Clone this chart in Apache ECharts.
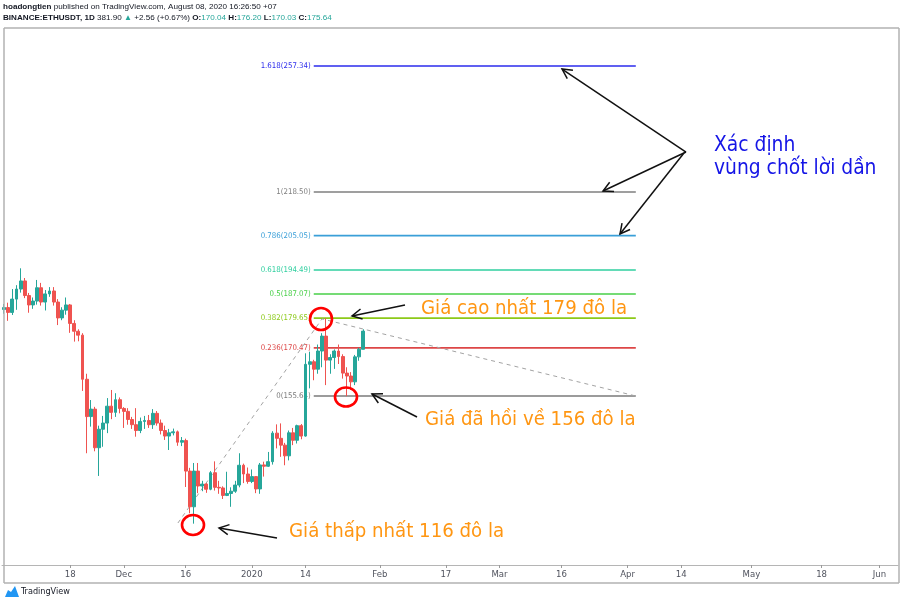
<!DOCTYPE html>
<html><head><meta charset="utf-8">
<script src="https://cdn.jsdelivr.net/npm/echarts/dist/echarts.min.js"></script>
<style>html,body{margin:0;padding:0;background:#fff}#c{width:900px;height:600px}</style>
</head><body><div id="c"></div>
<script>
// ---------- data ----------
const startDate = Date.UTC(2019, 10, 2);   // first category: 2019-11-02
const dayCount = 217;                      // through 2020-06-05
const days = [];
for (let i = 0; i < dayCount; i++) days.push(new Date(startDate + i * 86400000).toISOString().slice(0, 10));

// daily candles 2019-11-02 .. 2020-01-28
const opens  = [182.3,182.9,181.4,185.5,188.6,191.1,186.6,183.7,184.9,189.0,184.6,187.1,188.0,184.6,179.7,182.1,183.7,178.0,175.6,174.4,160.8,149.3,151.6,139.7,145.4,147.3,152.5,150.6,154.5,151.8,150.9,148.4,146.8,145.0,147.8,148.1,146.8,150.3,147.3,145.0,143.3,144.3,144.6,141.4,141.9,132.5,121.5,132.5,127.9,128.5,126.9,132.0,127.5,127.3,125.0,125.6,126.3,128.2,134.3,131.6,129.3,130.8,127.0,134.4,134.0,135.4,144.2,142.6,140.5,137.2,144.3,142.0,146.5,143.3,165.4,166.2,163.9,169.5,174.1,166.7,167.5,169.5,167.8,162.7,161.8,160.0,167.7,170.04];
const closes = [182.9,181.4,185.5,188.6,191.1,186.6,183.7,184.9,189.0,184.6,187.1,188.0,184.6,179.7,182.1,183.7,178.0,175.6,174.4,160.8,149.3,151.6,139.7,145.4,147.3,152.5,150.6,154.5,151.8,150.9,148.4,146.8,145.0,147.8,148.1,146.8,150.3,147.3,145.0,143.3,144.3,144.6,141.4,141.9,132.5,121.5,132.5,127.9,128.5,126.9,132.0,127.5,127.3,125.0,125.6,126.3,128.2,134.3,131.6,129.3,130.8,127.0,134.4,134.0,135.4,144.2,142.6,140.5,137.2,144.3,142.0,146.5,143.3,165.4,166.2,163.9,169.5,174.1,166.7,167.5,169.5,167.8,162.7,161.8,160.0,167.7,170.04,175.64];
const lows   = [181.0,178.8,180.6,182.2,187.5,185.8,181.3,182.5,183.8,183.5,182.0,186.2,183.5,177.5,179.0,180.7,175.1,172.4,172.5,157.2,138.0,146.2,138.6,131.0,140.0,144.2,148.5,149.2,150.3,145.8,146.8,145.5,143.1,144.2,145.5,145.8,145.5,146.5,143.8,142.1,139.0,143.5,140.3,140.2,127.6,119.5,116.3,125.7,126.3,125.8,126.6,126.5,125.5,123.9,124.8,121.5,125.8,127.5,128.8,128.6,128.8,125.7,125.5,130.8,133.8,134.5,139.5,136.9,134.3,135.8,140.5,141.0,142.3,143.1,158.0,160.5,162.5,164.5,159.0,162.5,164.0,165.5,161.0,155.6,157.5,159.0,166.5,170.03];
const highs  = [184.0,184.4,188.6,189.8,195.0,192.0,187.4,186.0,191.4,190.5,188.3,189.2,189.2,185.5,183.0,186.0,184.0,179.0,176.2,175.0,162.5,154.4,152.3,146.5,149.5,155.0,157.5,156.5,155.2,152.2,151.9,149.2,151.9,149.0,149.5,149.8,151.6,151.0,148.4,146.5,145.5,145.6,145.0,143.0,142.5,133.5,135.0,135.0,129.5,128.8,132.5,135.5,129.5,127.8,132.3,127.5,129.5,138.0,134.8,133.6,133.0,130.9,135.0,135.4,138.4,144.8,146.9,147.2,141.2,145.0,145.8,146.8,147.0,168.8,169.3,166.8,171.5,175.0,179.6,168.5,170.0,171.5,168.5,164.5,163.0,168.3,170.5,176.2];

const tickDates  = ['2019-11-18','2019-12-01','2019-12-16','2020-01-01','2020-01-14','2020-02-01','2020-02-17','2020-03-01','2020-03-16','2020-04-01','2020-04-14','2020-05-01','2020-05-18','2020-06-01'];
const tickLabels = ['18','Dec','16','2020','14','Feb','17','Mar','16','Apr','14','May','18','Jun'];

// trend-based fib extension
const fibRatios = ['1.618','1','0.786','0.618','0.5','0.382','0.236','0'];
const fibPrices = [257.34, 218.50, 205.05, 194.49, 187.07, 179.65, 170.47, 155.64];
const fibColors = ['#2b2bec','#7f7f7f','#3a9fd8','#2fcf9f','#47cf47','#8cc918','#dd4646','#7a7a7a'];
const fibSpan   = [75, 153];                 // day index range of the levels
const trendDays   = [42.1, 77, 153];
const trendPrices = [116.5, 179.4, 155.64];

// annotations (day index, price)
const circleDays   = [76.76, 82.81, 45.76];
const circlePrices = [179.37, 155.33, 115.89];
const circleRadii  = [[11, 11], [11, 9.5], [11, 10]];
const notes = [
  {text: 'Giá cao nhất 179 đô la',  day: 100.98, price: 182.45, color: '#ff9612', size: 20.2},
  {text: 'Giá đã hồi về 156 đô la', day: 101.95, price: 148.24, color: '#ff9612', size: 20.2},
  {text: 'Giá thấp nhất 116 đô la', day: 69.01,  price: 113.73, color: '#ff9612', size: 20.2},
  {text: 'Xác định',               day: 171.94, price: 232.68, color: '#1515e6', size: 20.8},
  {text: 'vùng chốt lời dần',      day: 171.94, price: 225.59, color: '#1515e6', size: 20.8}
];
const arrows = [ // [tailDay, tailPrice, tipDay, tipPrice]
  [165.16, 230.83, 135.13, 256.41],
  [165.16, 230.83, 145.06, 218.81],
  [164.67, 230.52, 149.17, 205.56],
  [97.10, 183.68, 84.27, 180.29],
  [100.01, 149.17, 89.11, 156.26],
  [66.10, 111.88, 52.06, 114.96]
];

// ---------- chart ----------
const chart = echarts.init(document.getElementById('c'), null, {renderer: 'canvas'});
const candleData = opens.map((o, i) => [o, closes[i], lows[i], highs[i]]);
const isTick = (idx, val) => tickDates.indexOf(val) >= 0;
const COND = '"DejaVu Sans Condensed", "Liberation Sans", sans-serif';
const ARIAL = '"Liberation Sans", Arial, sans-serif';

const series = [];
fibPrices.forEach((p, i) => {
  series.push({
    type: 'line', xAxisIndex: 1, yAxisIndex: 0, silent: true, symbol: 'none',
    data: [[fibSpan[0], p], [fibSpan[1], p]],
    lineStyle: {color: fibColors[i], width: 1.6}, z: 1, animation: false
  });
});
series.push({
  type: 'line', xAxisIndex: 1, yAxisIndex: 0, silent: true, symbol: 'none',
  data: trendDays.map((d, i) => [d, trendPrices[i]]),
  lineStyle: {color: '#a3a3a3', width: 1, type: [4, 4]}, z: 1, animation: false
});
series.push({
  type: 'candlestick', xAxisIndex: 0, yAxisIndex: 0, data: candleData, barWidth: 3.4,
  itemStyle: {color: '#26a69a', color0: '#ef5350', borderColor: '#26a69a', borderColor0: '#ef5350', borderWidth: 1},
  z: 3, animation: false
});

chart.setOption({
  animation: false,
  backgroundColor: '#ffffff',
  grid: {left: 2, right: 2, top: 28, bottom: 35, containLabel: false, outerBoundsMode: 'none'},
  xAxis: [{
    type: 'category', data: days, boundaryGap: true,
    axisLine: {show: true, lineStyle: {color: '#b5b5b5', width: 1}},
    axisTick: {show: true, interval: isTick, alignWithLabel: true, length: 3, lineStyle: {color: '#9a9a9a'}},
    axisLabel: {interval: isTick, formatter: v => tickLabels[tickDates.indexOf(v)], color: '#50535e', fontSize: 9.5, fontFamily: COND, margin: 5},
    splitLine: {show: false}
  }, {
    type: 'value', min: -0.5, max: dayCount - 0.5, show: false
  }],
  yAxis: [{type: 'value', min: 103.56, max: 269.05, show: false, splitLine: {show: false}}],
  series: series
});

// ---------- overlays ----------
const X = d => chart.convertToPixel({xAxisIndex: 1}, d);
const Y = p => chart.convertToPixel({yAxisIndex: 0}, p);
const g = [];
const frame = '#b2b2b2';
g.push({type: 'line', shape: {x1: 4, y1: 28, x2: 899, y2: 28}, style: {stroke: frame, lineWidth: 1.5}, z: 50});
g.push({type: 'line', shape: {x1: 4, y1: 28, x2: 4, y2: 583}, style: {stroke: frame, lineWidth: 1.5}, z: 50});
g.push({type: 'line', shape: {x1: 899, y1: 28, x2: 899, y2: 583}, style: {stroke: frame, lineWidth: 1.5}, z: 50});
g.push({type: 'line', shape: {x1: 4, y1: 583, x2: 899, y2: 583}, style: {stroke: frame, lineWidth: 1.5}, z: 50});

// fib labels
fibPrices.forEach((p, i) => {
  g.push({type: 'text', x: X(fibSpan[0]) - 3, y: Y(p), z: 0,
    style: {text: fibRatios[i] + '(' + p.toFixed(2) + ')', fill: fibColors[i], font: '7.8px ' + COND,
      align: 'right', textAlign: 'right', verticalAlign: 'middle', textVerticalAlign: 'middle'}});
});

// circles
circleDays.forEach((d, i) => {
  g.push({type: 'ellipse', shape: {cx: X(d), cy: Y(circlePrices[i]), rx: circleRadii[i][0], ry: circleRadii[i][1]},
    style: {fill: 'none', stroke: '#ff0000', lineWidth: 2.6}, z: 100});
});

// arrows
arrows.forEach(a => {
  const t = [X(a[0]), Y(a[1])], h = [X(a[2]), Y(a[3])];
  const dx = h[0] - t[0], dy = h[1] - t[1], L = Math.hypot(dx, dy), ux = dx / L, uy = dy / L;
  const hl = 11, ang = Math.PI / 6.5;
  const leg = s => [h[0] - hl * (ux * Math.cos(s) - uy * Math.sin(s)), h[1] - hl * (ux * Math.sin(s) + uy * Math.cos(s))];
  g.push({type: 'polyline', shape: {points: [t, h]}, style: {stroke: '#111', lineWidth: 1.5, fill: null}, z: 100});
  g.push({type: 'polyline', shape: {points: [leg(ang), h, leg(-ang)]}, style: {stroke: '#111', lineWidth: 1.5, fill: null}, z: 100});
});

// notes
notes.forEach(n => {
  g.push({type: 'text', x: X(n.day), y: Y(n.price), z: 100,
    style: {text: n.text, fill: n.color, font: n.size + 'px "DejaVu Sans Condensed", "DejaVu Sans", sans-serif',
      verticalAlign: 'middle', textVerticalAlign: 'middle'}});
});

// header
const HF = '8.1px ' + ARIAL;
g.push({type: 'text', x: 3, y: 7, z: 60, style: {
  text: '{b|hoadongtien} published on TradingView.com, August 08, 2020 16:26:50 +07',
  font: HF, fill: '#131722', verticalAlign: 'middle', textVerticalAlign: 'middle',
  rich: {b: {font: 'bold ' + HF, fill: '#131722'}}}});
g.push({type: 'text', x: 3, y: 18, z: 60, style: {
  text: '{b|BINANCE:ETHUSDT, 1D} 381.90 {g|▲} +2.56 (+0.67%) {b|O:}{g|170.04} {b|H:}{g|176.20} {b|L:}{g|170.03} {b|C:}{g|175.64}',
  font: HF, fill: '#131722', verticalAlign: 'middle', textVerticalAlign: 'middle',
  rich: {b: {font: 'bold ' + HF, fill: '#131722'}, g: {font: HF, fill: '#26a69a'}}}});

// footer logo
g.push({type: 'polygon', shape: {points: [[5, 597], [8, 590], [11, 592], [15, 586], [19, 597]]}, style: {fill: '#2196f3'}, z: 60});
g.push({type: 'text', x: 21, y: 592, z: 60, style: {text: 'TradingView', font: '9px ' + COND, fill: '#131722',
  verticalAlign: 'middle', textVerticalAlign: 'middle'}});

chart.setOption({graphic: g});
</script></body></html>
